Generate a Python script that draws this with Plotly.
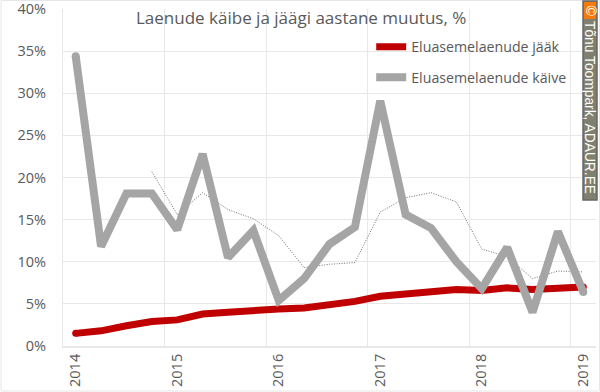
import plotly.graph_objects as go

years = ["2014", "2015", "2016", "2017", "2018", "2019"]
quarters = ["2014", "2014 II", "2014 III", "2014 IV", "2015", "2015 II", "2015 III", "2015 IV",
            "2016", "2016 II", "2016 III", "2016 IV", "2017", "2017 II", "2017 III", "2017 IV",
            "2018", "2018 II", "2018 III", "2018 IV", "2019"]
jaak = [1.5, 1.8, 2.4, 2.9, 3.1, 3.8, 4.0, 4.3, 4.4, 4.5, 4.8, 5.3, 5.9, 6.2, 6.6, 6.7, 6.6, 6.9, 6.7, 6.9, 7.0]
kaive = [34.4, 11.8, 18.1, 18.1, 13.8, 22.8, 10.5, 13.7, 5.4, 8.0, 12.1, 14.1, 29.1, 15.6, 14.0, 10.0, 6.8, 11.7, 4.0, 13.6, 6.4]
kaive_avg = [None, None, None, 20.7, 15.6, 18.2, 16.2, 15.1, 13.1, 9.3, 9.7, 9.9, 15.9, 17.6, 18.2, 17.1, 11.5, 10.6, 8.0, 8.9, 8.8]
y_ticks = [0, 5, 10, 15, 20, 25, 30, 35, 40]
y_labels = ["0%", "5%", "10%", "15%", "20%", "25%", "30%", "35%", "40%"]

FONT = "Open Sans, Noto Sans, Liberation Sans, sans-serif"
GRID = "#e8e8e8"
TEXT = "#595959"
RED = "#c00000"
GRAY = "#a5a5a5"
W, H = 600, 392
ML, MR, MT, MB = 62.5, 4, 9, 46
PW, PH = W - ML - MR, H - MT - MB


def px(x):
    return (x - ML) / PW


def py(y):
    return 1 - (y - MT) / PH


fig = go.Figure()
fig.add_trace(go.Scatter(x=quarters, y=kaive_avg, mode="lines", showlegend=False,
                         line=dict(color="#6e6e6e", width=1, dash="1px,1.5px")))
fig.add_trace(go.Scatter(x=quarters, y=jaak, mode="lines", name="Eluasemelaenude jääk",
                         legendgroup="a", legendrank=1, line=dict(color=RED, width=7)))
fig.add_trace(go.Scatter(x=[quarters[0], quarters[-1]], y=[jaak[0], jaak[-1]], mode="markers",
                         showlegend=False, marker=dict(color=RED, size=7)))
fig.add_trace(go.Scatter(x=quarters, y=kaive, mode="lines", name="Eluasemelaenude käive",
                         legendgroup="b", legendrank=2, line=dict(color=GRAY, width=8)))
fig.add_trace(go.Scatter(x=[quarters[0], quarters[-1]], y=[kaive[0], kaive[-1]], mode="markers",
                         showlegend=False, marker=dict(color=GRAY, size=8)))

fig.update_layout(
    width=W, height=H,
    margin=dict(l=ML, r=MR, t=MT, b=MB, pad=0, autoexpand=False),
    paper_bgcolor="white", plot_bgcolor="white",
    font=dict(family=FONT, size=14, color=TEXT),
    hovermode=False,
    legend=dict(x=px(371), y=py(31), xanchor="left", yanchor="top", bgcolor="rgba(0,0,0,0)",
                tracegroupgap=9, font=dict(size=14.2, color=TEXT), traceorder="grouped"),
    xaxis=dict(type="category", categoryorder="array", categoryarray=quarters,
               range=[-0.5, 20.5], tickson="boundaries", tickmode="linear", tick0=0, dtick=4,
               showgrid=True, gridcolor=GRID, gridwidth=1,
               ticks="outside", ticklen=7, tickcolor="rgba(0,0,0,0)",
               showline=True, linecolor=GRID, linewidth=2, tickangle=-90,
               ticklabeloverflow="allow", tickfont=dict(size=14.5, color=TEXT)),
    yaxis=dict(range=[0, 40], tickmode="array", tickvals=y_ticks, ticktext=y_labels,
               showgrid=True, gridcolor=GRID, gridwidth=1, zeroline=False,
               ticks="outside", ticklen=13, tickcolor="rgba(0,0,0,0)",
               showline=True, linecolor=GRID, linewidth=1,
               ticklabeloverflow="allow", tickfont=dict(size=14.5, color=TEXT)),
    shapes=[
        dict(type="rect", xref="paper", yref="paper", x0=px(132), x1=px(468), y0=py(31), y1=py(2),
             fillcolor="white", line_width=0, layer="between"),
        dict(type="rect", xref="paper", yref="paper", x0=px(0.5), x1=px(599.5), y0=py(391), y1=py(0.5),
             fillcolor="rgba(0,0,0,0)", line=dict(color="#e6e6e6", width=1), layer="above"),
        dict(type="rect", xref="paper", yref="paper", x0=px(583), x1=px(597), y0=py(200), y1=py(1),
             fillcolor="#808070", line=dict(color="#666666", width=1.5), layer="above"),
        dict(type="rect", xref="paper", yref="paper", x0=px(584), x1=px(596), y0=py(19), y1=py(2),
             fillcolor="#f57a0a", line_width=0, layer="above"),
    ],
    annotations=[
        dict(text="Laenude käibe ja jäägi aastane muutus, %", xref="paper", yref="paper",
             x=px(134), y=py(17), xanchor="left", yanchor="middle", showarrow=False,
             font=dict(size=17, color=TEXT, family=FONT)),
        dict(text="Tõnu Toompark, ADAUR.EE", xref="paper", yref="paper", x=px(590), y=py(107),
             xanchor="center", yanchor="middle", showarrow=False, textangle=90,
             font=dict(size=13.8, color="white", family="Liberation Sans, sans-serif")),
        dict(text="©", xref="paper", yref="paper", x=px(590), y=py(10.5), xanchor="center",
             yanchor="middle", showarrow=False, textangle=90,
             font=dict(size=14, color="white", family="Liberation Sans, sans-serif")),
    ],
)
fig.write_html("out.html", config={"displayModeBar": False},
               post_script="document.body.style.margin='0';")
